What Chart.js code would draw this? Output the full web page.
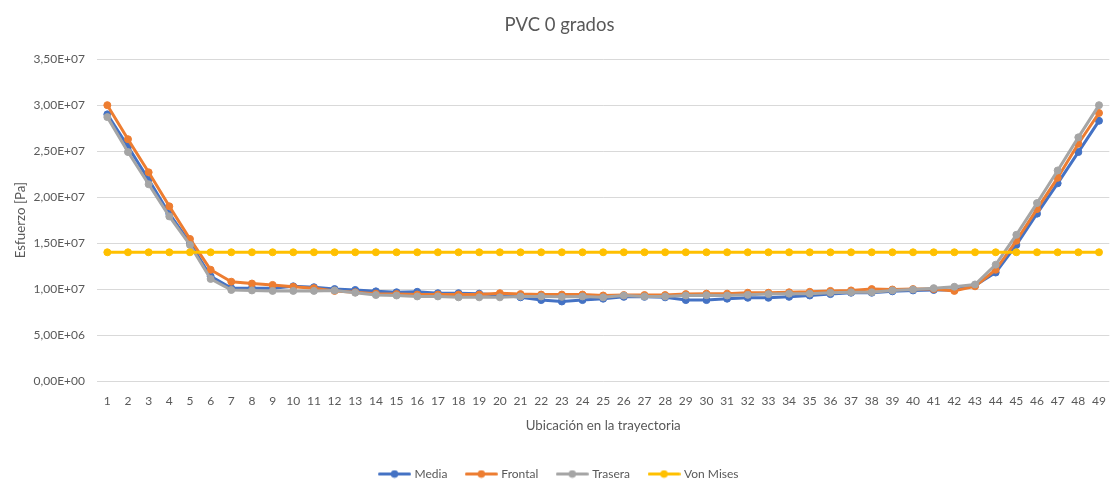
<!DOCTYPE html>
<html>
<head>
<meta charset="utf-8">
<title>PVC 0 grados</title>
<script src="https://cdn.jsdelivr.net/npm/chart.js@4/dist/chart.umd.min.js"></script>
<style>
  html, body { margin: 0; padding: 0; background: #ffffff; }
  #wrap { width: 1119px; height: 481px; position: relative; }
</style>
</head>
<body>
<div id="wrap"><canvas id="chart" width="1119" height="481"></canvas></div>
<script>
// Positions along the path (x axis categories)
const ubicaciones = ['1','2','3','4','5','6','7','8','9','10','11','12','13','14','15','16','17','18','19','20',
  '21','22','23','24','25','26','27','28','29','30','31','32','33','34','35','36','37','38','39','40',
  '41','42','43','44','45','46','47','48','49'];

// Stress values in Pa
const media = [2.90e7, 2.55e7, 2.19e7, 1.82e7, 1.50e7, 1.14e7, 1.01e7, 1.01e7, 1.01e7, 1.03e7,
  1.02e7, 1.00e7, 0.99e7, 0.975e7, 0.965e7, 0.97e7, 0.955e7, 0.955e7, 0.95e7, 0.935e7,
  0.91e7, 0.88e7, 0.865e7, 0.88e7, 0.895e7, 0.915e7, 0.915e7, 0.91e7, 0.88e7, 0.88e7,
  0.895e7, 0.905e7, 0.905e7, 0.915e7, 0.93e7, 0.945e7, 0.96e7, 0.96e7, 0.975e7, 0.985e7,
  0.99e7, 0.99e7, 1.04e7, 1.18e7, 1.48e7, 1.82e7, 2.15e7, 2.49e7, 2.83e7];

const frontal = [3.00e7, 2.63e7, 2.27e7, 1.90e7, 1.545e7, 1.21e7, 1.08e7, 1.06e7, 1.045e7, 1.025e7,
  1.01e7, 0.98e7, 0.965e7, 0.95e7, 0.945e7, 0.94e7, 0.94e7, 0.94e7, 0.94e7, 0.955e7,
  0.945e7, 0.94e7, 0.94e7, 0.94e7, 0.93e7, 0.935e7, 0.935e7, 0.935e7, 0.945e7, 0.95e7,
  0.95e7, 0.96e7, 0.96e7, 0.965e7, 0.97e7, 0.98e7, 0.985e7, 1.00e7, 0.995e7, 1.00e7,
  1.00e7, 0.98e7, 1.03e7, 1.21e7, 1.525e7, 1.87e7, 2.21e7, 2.58e7, 2.915e7];

const trasera = [2.87e7, 2.49e7, 2.14e7, 1.79e7, 1.48e7, 1.11e7, 0.99e7, 0.985e7, 0.98e7, 0.98e7,
  0.98e7, 0.985e7, 0.96e7, 0.935e7, 0.93e7, 0.92e7, 0.92e7, 0.91e7, 0.91e7, 0.91e7,
  0.92e7, 0.92e7, 0.915e7, 0.92e7, 0.91e7, 0.93e7, 0.92e7, 0.92e7, 0.93e7, 0.933e7,
  0.93e7, 0.937e7, 0.945e7, 0.95e7, 0.95e7, 0.96e7, 0.965e7, 0.965e7, 0.985e7, 0.995e7,
  1.01e7, 1.025e7, 1.05e7, 1.265e7, 1.59e7, 1.935e7, 2.29e7, 2.65e7, 3.00e7];

const vonMises = [1.40e7, 1.40e7, 1.40e7, 1.40e7, 1.40e7, 1.40e7, 1.40e7, 1.40e7, 1.40e7, 1.40e7,
  1.40e7, 1.40e7, 1.40e7, 1.40e7, 1.40e7, 1.40e7, 1.40e7, 1.40e7, 1.40e7, 1.40e7,
  1.40e7, 1.40e7, 1.40e7, 1.40e7, 1.40e7, 1.40e7, 1.40e7, 1.40e7, 1.40e7, 1.40e7,
  1.40e7, 1.40e7, 1.40e7, 1.40e7, 1.40e7, 1.40e7, 1.40e7, 1.40e7, 1.40e7, 1.40e7,
  1.40e7, 1.40e7, 1.40e7, 1.40e7, 1.40e7, 1.40e7, 1.40e7, 1.40e7, 1.40e7];

// Y axis tick labels, from 0 upward in steps of 5E+06
const yTickLabels = ['0,00E+00', '5,00E+06', '1,00E+07', '1,50E+07', '2,00E+07', '2,50E+07', '3,00E+07', '3,50E+07'];

const FONT = 'Lato, "Open Sans", sans-serif';
const TEXT = '#595959';

// Legend sample: short line with a marker in the middle
function legendSample(color) {
  const c = document.createElement('canvas');
  c.width = 33; c.height = 9;
  const g = c.getContext('2d');
  g.strokeStyle = color; g.lineWidth = 3; g.lineCap = 'round';
  g.beginPath(); g.moveTo(1.5, 4.5); g.lineTo(31.5, 4.5); g.stroke();
  g.fillStyle = color;
  g.beginPath(); g.arc(16.5, 4.5, 3.8, 0, Math.PI * 2); g.fill();
  return c;
}

function serie(label, data, color, order) {
  return {
    label, data, order,
    borderColor: color, backgroundColor: color,
    borderWidth: 3,
    borderJoinStyle: 'round', borderCapStyle: 'round',
    pointRadius: 3.5, pointBorderWidth: 1,
    pointBackgroundColor: color, pointBorderColor: color,
    pointStyle: 'circle',
    tension: 0,
    legendSample: legendSample(color)
  };
}

new Chart(document.getElementById('chart'), {
  type: 'line',
  data: {
    labels: ubicaciones,
    datasets: [
      serie('Media', media, '#4472C4', 4),
      serie('Frontal', frontal, '#ED7D31', 3),
      serie('Trasera', trasera, '#A5A5A5', 2),
      serie('Von Mises', vonMises, '#FFC000', 1)
    ]
  },
  options: {
    responsive: false,
    animation: false,
    devicePixelRatio: 1,
    layout: { padding: { left: 0, right: 0, top: 0, bottom: -9 } },
    plugins: {
      title: {
        display: true,
        text: 'PVC 0 grados',
        color: TEXT,
        font: { family: FONT, size: 18.5, weight: 'normal' },
        padding: { top: 13.5, bottom: 23.5 }
      },
      legend: {
        position: 'bottom',
        sort: (a, b) => a.datasetIndex - b.datasetIndex,
        labels: {
          color: TEXT,
          font: { family: FONT, size: 12 },
          usePointStyle: true,
          pointStyleWidth: 28,
          padding: 20,
          generateLabels(chart) {
            return chart.data.datasets.map((ds, i) => ({
              text: ds.label,
              fillStyle: ds.borderColor,
              strokeStyle: ds.borderColor,
              fontColor: TEXT,
              lineWidth: 0,
              pointStyle: ds.legendSample,
              hidden: false,
              datasetIndex: i
            }));
          }
        }
      },
      tooltip: { enabled: false }
    },
    scales: {
      x: {
        offset: true,
        grid: { display: false, drawTicks: false },
        border: { display: false },
        ticks: {
          color: TEXT, font: { family: FONT, size: 12 },
          padding: 13, maxRotation: 0, autoSkip: false
        },
        title: {
          display: true, text: 'Ubicación en la trayectoria',
          color: TEXT, font: { family: FONT, size: 13.3 },
          padding: { top: 0, bottom: 14 }
        },
        afterFit(scale) { scale.height = 67; }
      },
      y: {
        min: 0, max: 3.5e7,
        grid: { color: '#D9D9D9', lineWidth: 1, drawTicks: false },
        border: { display: false },
        ticks: {
          stepSize: 5e6,
          color: TEXT, font: { family: FONT, size: 12 },
          padding: 12,
          callback(value, index) { return yTickLabels[index]; }
        },
        title: {
          display: true, text: 'Esfuerzo [Pa]',
          color: TEXT, font: { family: FONT, size: 13.3 },
          padding: { top: 13, bottom: 0 }
        },
        afterFit(scale) { scale.width = 97; }
      }
    }
  }
});
</script>
</body>
</html>
